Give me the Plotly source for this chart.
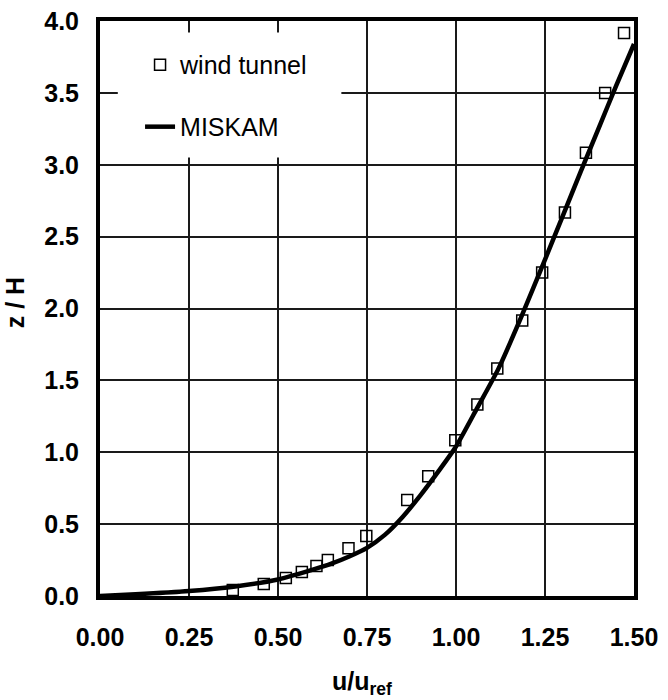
import plotly.graph_objects as go

# wind tunnel measurements (u/u_ref, z/H)
wt_u = [0.373, 0.46, 0.522, 0.567, 0.608, 0.64, 0.698, 0.748, 0.863, 0.922,
        0.998, 1.06, 1.116, 1.186, 1.242, 1.306, 1.365, 1.419, 1.472]
wt_z = [0.042, 0.083, 0.125, 0.167, 0.208, 0.25, 0.333, 0.417, 0.667, 0.833,
        1.083, 1.333, 1.583, 1.917, 2.25, 2.667, 3.083, 3.5, 3.917]

# MISKAM profile
mk_u = [0.0, 0.1, 0.25, 0.375, 0.5, 0.6, 0.65, 0.7, 0.75, 0.8, 0.85, 0.9, 0.95,
        1.0, 1.06, 1.119, 1.184, 1.25, 1.3, 1.35, 1.4, 1.45, 1.5]
mk_z = [0.0, 0.012, 0.035, 0.065, 0.115, 0.185, 0.225, 0.275, 0.335, 0.425, 0.55, 0.70, 0.865,
        1.04, 1.31, 1.58, 1.945, 2.34, 2.645, 2.95, 3.25, 3.55, 3.84]

x_ticks = [0.0, 0.25, 0.5, 0.75, 1.0, 1.25, 1.5]
y_ticks = [0.0, 0.5, 1.0, 1.5, 2.0, 2.5, 3.0, 3.5, 4.0]

FONT = "Liberation Sans, Arial, sans-serif"
BOLD = dict(family=FONT, size=25, color="black", weight="bold")

fig = go.Figure()
fig.add_trace(go.Scatter(
    x=mk_u, y=mk_z, mode="lines", name="MISKAM",
    line=dict(color="black", width=4.5, shape="spline", smoothing=0.6),
    legend="legend2",
))
fig.add_trace(go.Scatter(
    x=wt_u, y=wt_z, mode="markers", name="wind tunnel",
    marker=dict(symbol="square-open", size=11, color="black",
                line=dict(width=1.5, color="black")),
    legend="legend", cliponaxis=False,
))

# white box behind legend (hides gridlines)
fig.add_shape(type="rect", xref="x", yref="y", x0=0.05, x1=0.678, y0=3.05, y1=3.92,
              fillcolor="white", line=dict(width=0), layer="between")

axis_common = dict(
    showline=True, linecolor="black", linewidth=4, mirror=True,
    showgrid=True, gridcolor="#1a1a1a", gridwidth=1.5, zeroline=False,
    ticks="", tickfont=BOLD, automargin=False,
)

fig.update_xaxes(range=[0, 1.5], tickvals=x_ticks, tickformat=".2f",
                 ticklabelstandoff=16, **axis_common)
fig.update_yaxes(range=[0, 4.0], tickvals=y_ticks, tickformat=".1f",
                 ticklabelstandoff=12, **axis_common)

# axis titles
fig.add_annotation(text="u/u<sub>ref</sub>", xref="paper", yref="paper",
                   x=0.49, y=-0.152, xanchor="center", yanchor="middle",
                   showarrow=False, font=BOLD)
fig.add_annotation(text="z / H", xref="paper", yref="paper",
                   x=-0.16, y=0.51, xanchor="center", yanchor="middle",
                   textangle=-90, showarrow=False, font=BOLD)

fig.update_layout(
    width=668, height=700,
    margin=dict(l=100, r=34, t=21, b=104, autoexpand=False),
    paper_bgcolor="white", plot_bgcolor="white",
    showlegend=True,
    legend=dict(x=0.075, y=0.9236, xanchor="left", yanchor="middle",
                bgcolor="rgba(0,0,0,0)", borderwidth=0, font=dict(family=FONT, size=25, color="black")),
    legend2=dict(x=0.075, y=0.8158, xanchor="left", yanchor="middle",
                 bgcolor="rgba(0,0,0,0)", borderwidth=0, font=dict(family=FONT, size=25, color="black")),
)

fig.write_html("out.html", config={"displayModeBar": False},
               post_script="document.body.style.margin='0';")
